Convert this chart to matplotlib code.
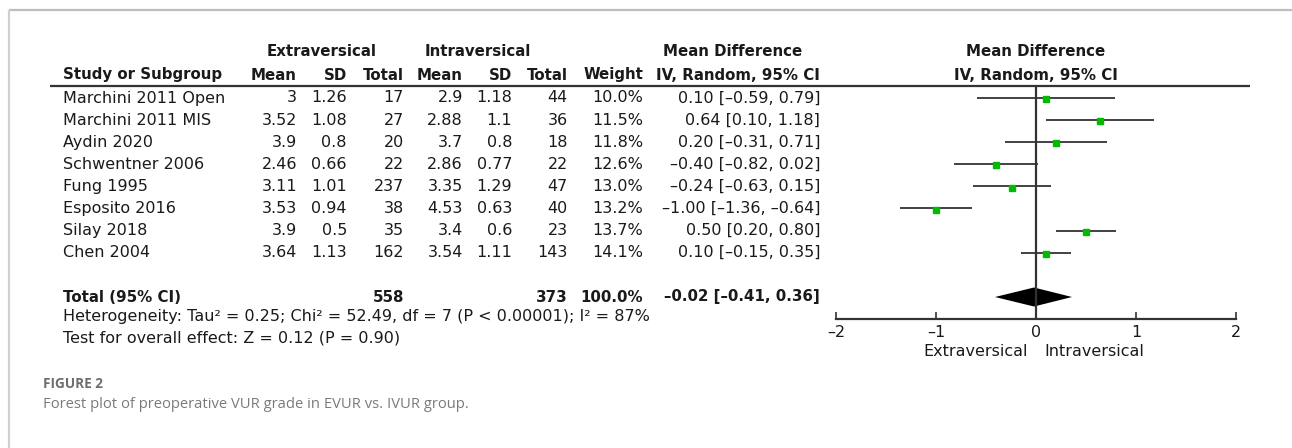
import numpy as np
import matplotlib.pyplot as plt
from matplotlib.ticker import FuncFormatter

# study data
studies = ['Marchini 2011 Open', 'Marchini 2011 MIS', 'Aydin 2020', 'Schwentner 2006',
           'Fung 1995', 'Esposito 2016', 'Silay 2018', 'Chen 2004']
ext_mean = [3, 3.52, 3.9, 2.46, 3.11, 3.53, 3.9, 3.64]
ext_sd = [1.26, 1.08, 0.8, 0.66, 1.01, 0.94, 0.5, 1.13]
ext_n = [17, 27, 20, 22, 237, 38, 35, 162]
int_mean = [2.9, 2.88, 3.7, 2.86, 3.35, 4.53, 3.4, 3.54]
int_sd = [1.18, 1.1, 0.8, 0.77, 1.29, 0.63, 0.6, 1.11]
int_n = [44, 36, 18, 22, 47, 40, 23, 143]
weight = [10.0, 11.5, 11.8, 12.6, 13.0, 13.2, 13.7, 14.1]
md = [0.10, 0.64, 0.20, -0.40, -0.24, -1.00, 0.50, 0.10]
ci_lo = [-0.59, 0.10, -0.31, -0.82, -0.63, -1.36, 0.20, -0.15]
ci_hi = [0.79, 1.18, 0.71, 0.02, 0.15, -0.64, 0.80, 0.35]

# pooled result
tot_ext = 558
tot_int = 373
tot_weight = 100.0
tot_md, tot_lo, tot_hi = -0.02, -0.41, 0.36
het_text = 'Heterogeneity: Tau² = 0.25; Chi² = 52.49, df = 7 (P < 0.00001); I² = 87%'
test_text = 'Test for overall effect: Z = 0.12 (P = 0.90)'
xticks = [-2, -1, 0, 1, 2]

W, H = 1292, 448
fig = plt.figure(figsize=(W / 100, H / 100), dpi=100)
plt.rcParams['font.family'] = ['DejaVu Sans']

# full-figure axes in pixel units for the table
tab = fig.add_axes([0, 0, 1, 1])
tab.set_xlim(0, W)
tab.set_ylim(H, 0)
tab.axis('off')

fs_b = 10.8   # bold header size
fs = 11.5     # body size
ink = '#1a1a1a'
DASH = '\u2013'

def fmt(v):
    return '{:g}'.format(v)

def ci(m, l, h):
    return '{:.2f} [{:.2f}, {:.2f}]'.format(m, l, h).replace('-', DASH)

# frame around the figure
tab.plot([9, W], [10, 10], color='#bdbdbd', lw=1.6, solid_capstyle='butt')
tab.plot([9, 9], [10, H], color='#d0d0d0', lw=1.6, solid_capstyle='butt')

# headers
hy1, hy2 = 52, 75
bold = dict(fontsize=fs_b, fontweight='bold', color=ink, va='center')
tab.text(322, hy1, 'Extraversical', ha='center', **bold)
tab.text(478, hy1, 'Intraversical', ha='center', **bold)
tab.text(733, hy1, 'Mean Difference', ha='center', **bold)
tab.text(1036, hy1, 'Mean Difference', ha='center', **bold)
tab.text(63, hy2, 'Study or Subgroup', ha='left', **bold)
cols = [297, 347, 404, 463, 512, 568, 643, 820]
for x, s in zip(cols, ['Mean', 'SD', 'Total', 'Mean', 'SD', 'Total', 'Weight',
                       'IV, Random, 95% CI']):
    tab.text(x, hy2, s, ha='right', **bold)
tab.text(1036, hy2, 'IV, Random, 95% CI', ha='center', **bold)
tab.plot([50, 1250], [86, 86], color='#333333', lw=1.6, solid_capstyle='butt')

# study rows
row0, step = 98, 22.1
norm = dict(fontsize=fs, color=ink, va='center')
for i in range(len(studies)):
    y = row0 + step * i
    tab.text(63, y, studies[i], ha='left', **norm)
    vals = [fmt(ext_mean[i]), fmt(ext_sd[i]), str(ext_n[i]),
            fmt(int_mean[i]), fmt(int_sd[i]), str(int_n[i]),
            '{:.1f}%'.format(weight[i]), ci(md[i], ci_lo[i], ci_hi[i])]
    for x, s in zip(cols, vals):
        tab.text(x, y, s, ha='right', **norm)

# total row
ty = 297
tab.text(63, ty, 'Total (95% CI)', ha='left', **bold)
tab.text(cols[2], ty, str(tot_ext), ha='right', **bold)
tab.text(cols[5], ty, str(tot_int), ha='right', **bold)
tab.text(cols[6], ty, '{:.1f}%'.format(tot_weight), ha='right', **bold)
tab.text(cols[7], ty, ci(tot_md, tot_lo, tot_hi), ha='right', **bold)
tab.text(63, 316, het_text, ha='left', **norm)
tab.text(63, 338, test_text, ha='left', **norm)

# caption
cap_font = ['Open Sans', 'DejaVu Sans']
tab.text(43, 384, 'FIGURE 2', ha='left', va='center', fontsize=9.8,
         fontweight='bold', color='#6e6e6e', family=cap_font)
tab.text(43, 405, 'Forest plot of preoperative VUR grade in EVUR vs. IVUR group.',
         ha='left', va='center', fontsize=10.6, color='#7a7a7a',
         family=cap_font)

# forest plot axes: x from -2 to 2, rows indexed from the top
ax = fig.add_axes([836 / W, 1 - 319 / H, 400 / W, (319 - 86) / H])
ax.patch.set_visible(False)
ax.set_xlim(-2, 2)
ax.set_ylim((319 - row0) / step, (86 - row0) / step)
for s in ['top', 'left', 'right']:
    ax.spines[s].set_visible(False)
ax.spines['bottom'].set_color('#333333')
ax.spines['bottom'].set_linewidth(1.6)
ax.set_yticks([])
ax.set_xticks(xticks)
ax.xaxis.set_major_formatter(FuncFormatter(lambda v, p: '{:g}'.format(v).replace('-', DASH)))
ax.tick_params(axis='x', direction='in', length=5, width=1.2, color='#333333',
               labelsize=fs, labelcolor=ink, pad=4)
ax.axvline(0, color='#333333', lw=1.6)

yrows = np.arange(len(studies))
ax.hlines(yrows, ci_lo, ci_hi, color='#333333', lw=1.3)
ax.plot(md, yrows + 0.05, 's', color='#00bb00', ms=5, mec='#00bb00')

yt = (ty - row0) / step
dh = 9.5 / step
ax.fill([tot_lo, tot_md, tot_hi, tot_md], [yt, yt - dh, yt, yt + dh],
        color='black', lw=0)

ax.text(-0.08, (352 - row0) / step, 'Extraversical', ha='right', va='center',
        fontsize=fs, color=ink, clip_on=False)
ax.text(0.08, (352 - row0) / step, 'Intraversical', ha='left', va='center',
        fontsize=fs, color=ink, clip_on=False)

fig.savefig('out.png', dpi=100)
